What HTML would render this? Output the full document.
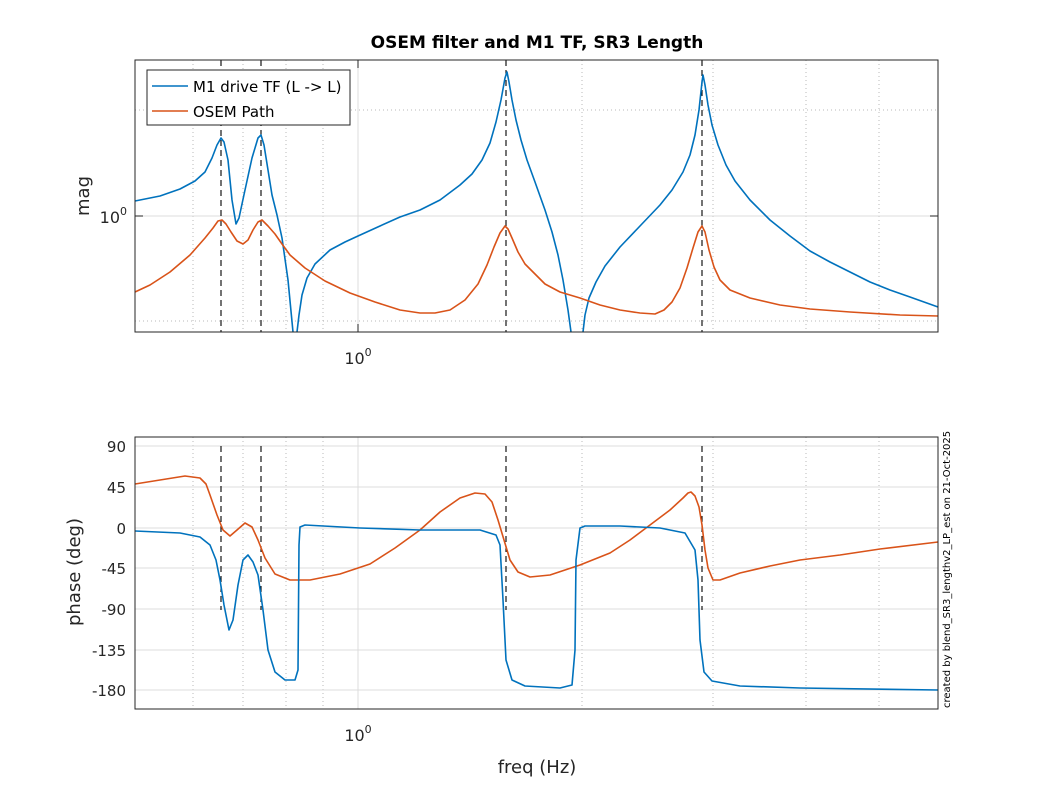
<!DOCTYPE html>
<html><head><meta charset="utf-8"><style>
html,body{margin:0;padding:0;background:#fff}
svg{display:block;font-family:"DejaVu Sans","Liberation Sans",sans-serif}
polyline{stroke-linejoin:round}
</style></head><body>
<svg width="1037" height="797" viewBox="0 0 1037 797" xmlns="http://www.w3.org/2000/svg">
<rect width="1037" height="797" fill="#fff"/>
<text x="537" y="48" font-size="17" font-weight="bold" text-anchor="middle" fill="#000">OSEM filter and M1 TF, SR3 Length</text>
<g>
<g stroke="#b8b8b8" stroke-width="1" stroke-dasharray="1,3">
<line x1="193" y1="60" x2="193" y2="332"/><line x1="243" y1="60" x2="243" y2="332"/><line x1="286" y1="60" x2="286" y2="332"/><line x1="323" y1="60" x2="323" y2="332"/>
<line x1="582" y1="60" x2="582" y2="332"/><line x1="713" y1="60" x2="713" y2="332"/><line x1="806" y1="60" x2="806" y2="332"/><line x1="879" y1="60" x2="879" y2="332"/>
<line x1="135" y1="110" x2="938" y2="110"/><line x1="135" y1="321" x2="938" y2="321"/>
</g>
<g stroke="#dcdcdc"><line x1="358" y1="60" x2="358" y2="332"/><line x1="135" y1="216" x2="938" y2="216"/></g>
<g stroke="#000" stroke-dasharray="6,4" stroke-width="1.1"><line x1="221" y1="60" x2="221" y2="332"/><line x1="261" y1="60" x2="261" y2="332"/><line x1="506" y1="60" x2="506" y2="332"/><line x1="702" y1="60" x2="702" y2="332"/></g>
<polyline fill="none" stroke="#0072BD" stroke-width="1.6" points="135,201 160,196 180,189 195,181 205,172 212,158 217,145 221,138 224,142 228,160 232,200 236,224 239,218 245,190 252,158 258,138 261,135 264,145 268,170 272,195 277,215 282,238 288,280 293,332"/>
<polyline fill="none" stroke="#0072BD" stroke-width="1.6" points="297,332 299,315 302,295 307,278 315,264 330,250 345,242 358,236 380,226 400,217 420,210 440,200 460,185 472,174 482,160 490,143 496,122 501,100 505,78 507,72 509,82 512,100 516,120 521,140 527,160 535,182 545,210 552,232 558,255 563,280 568,310 571,332"/>
<polyline fill="none" stroke="#0072BD" stroke-width="1.6" points="583,332 585,315 589,298 596,282 605,266 620,247 640,226 660,205 672,190 683,172 690,155 695,135 699,110 702,82 703,75 705,85 708,105 712,125 718,145 726,165 735,181 750,200 770,220 790,236 810,251 830,262 850,272 870,282 890,290 910,297 938,307"/>
<polyline fill="none" stroke="#D95319" stroke-width="1.6" points="135,292 150,285 170,272 190,255 205,238 213,228 218,221 222,220 226,224 231,232 237,241 243,244 248,240 253,230 258,222 262,220 268,226 275,234 282,244 290,255 305,268 325,281 350,293 375,302 400,310 420,313 435,313 450,310 465,300 478,284 487,265 494,247 500,233 505,226 508,229 512,238 518,252 525,264 535,274 545,284 560,292 580,298 600,305 620,310 640,313 655,314 664,310 672,302 680,288 687,268 693,248 698,232 702,226 705,232 709,250 714,267 720,280 730,290 750,298 780,305 810,309 850,312 900,315 938,316"/>
<rect x="135" y="60" width="803" height="272" fill="none" stroke="#262626" stroke-width="1"/>
<g stroke="#262626"><line x1="135" y1="216" x2="143" y2="216"/><line x1="938" y1="216" x2="930" y2="216"/><line x1="358" y1="332" x2="358" y2="324"/><line x1="358" y1="60" x2="358" y2="68"/></g>
<text x="127" y="223" font-size="16" text-anchor="end" fill="#262626">10<tspan dy="-8" font-size="11">0</tspan></text>
<text x="358" y="364" font-size="16" text-anchor="middle" fill="#262626">10<tspan dy="-8" font-size="11">0</tspan></text>
<text transform="translate(89,196) rotate(-90)" font-size="18" text-anchor="middle" fill="#262626">mag</text>
<rect x="147" y="70" width="203" height="55" fill="#fff" stroke="#262626"/>
<line x1="152" y1="86" x2="188" y2="86" stroke="#0072BD" stroke-width="1.6"/>
<line x1="152" y1="111" x2="188" y2="111" stroke="#D95319" stroke-width="1.6"/>
<text x="193" y="92" font-size="15" fill="#000">M1 drive TF (L -&gt; L)</text>
<text x="193" y="117" font-size="15" fill="#000">OSEM Path</text>
</g>
<g>
<g stroke="#b8b8b8" stroke-dasharray="1,3">
<line x1="193" y1="437" x2="193" y2="709"/><line x1="243" y1="437" x2="243" y2="709"/><line x1="286" y1="437" x2="286" y2="709"/><line x1="323" y1="437" x2="323" y2="709"/>
<line x1="582" y1="437" x2="582" y2="709"/><line x1="713" y1="437" x2="713" y2="709"/><line x1="806" y1="437" x2="806" y2="709"/><line x1="879" y1="437" x2="879" y2="709"/>
</g>
<g stroke="#dcdcdc"><line x1="358" y1="437" x2="358" y2="709"/>
<line x1="135" y1="446" x2="938" y2="446"/><line x1="135" y1="487" x2="938" y2="487"/><line x1="135" y1="528" x2="938" y2="528"/><line x1="135" y1="568" x2="938" y2="568"/><line x1="135" y1="609" x2="938" y2="609"/><line x1="135" y1="650" x2="938" y2="650"/><line x1="135" y1="690" x2="938" y2="690"/></g>
<g stroke="#000" stroke-dasharray="6,4" stroke-width="1.1"><line x1="221" y1="446" x2="221" y2="610"/><line x1="261" y1="446" x2="261" y2="610"/><line x1="506" y1="446" x2="506" y2="610"/><line x1="702" y1="446" x2="702" y2="610"/></g>
<polyline fill="none" stroke="#D95319" stroke-width="1.6" points="135,484 160,480 185,476 200,478 206,484 210,495 217,515 223,530 230,536 237,530 245,523 252,527 258,540 265,558 275,574 290,580 310,580 340,574 370,564 395,548 420,530 440,512 460,498 475,493 485,494 492,502 498,520 504,540 510,560 518,572 530,577 550,575 580,565 610,553 630,540 650,525 670,510 683,498 688,493 691,492 695,496 699,507 702,525 705,550 708,568 713,580 720,580 740,573 770,566 800,560 840,555 880,549 938,542"/>
<polyline fill="none" stroke="#0072BD" stroke-width="1.6" points="135,531 180,533 200,537 210,545 216,560 220,580 224,605 229,630 233,620 238,585 243,560 248,555 253,562 258,575 263,610 268,650 275,672 285,680 295,680 298,670 299,545 300,527 305,525 360,528 420,530 480,530 496,535 500,545 503,600 506,660 512,680 525,686 560,688 572,685 575,650 576,560 580,528 585,526 620,526 660,528 685,533 695,550 698,580 700,640 704,672 712,681 740,686 800,688 938,690"/>
<rect x="135" y="437" width="803" height="272" fill="none" stroke="#262626"/>
<g font-size="15" fill="#262626" text-anchor="end">
<text x="126" y="452">90</text><text x="126" y="493">45</text><text x="126" y="534">0</text><text x="126" y="574">-45</text><text x="126" y="615">-90</text><text x="126" y="656">-135</text><text x="126" y="696">-180</text>
</g>
<text x="358" y="741" font-size="16" text-anchor="middle" fill="#262626">10<tspan dy="-8" font-size="11">0</tspan></text>
<text transform="translate(80,572) rotate(-90)" font-size="18" text-anchor="middle" fill="#262626">phase (deg)</text>
<text x="537" y="773" font-size="18" text-anchor="middle" fill="#262626">freq (Hz)</text>
<text transform="translate(950,708) rotate(-90)" font-size="10" fill="#000">created by blend_SR3_lengthv2_LP_est on 21-Oct-2025</text>
</g>
</svg>
</body></html>
